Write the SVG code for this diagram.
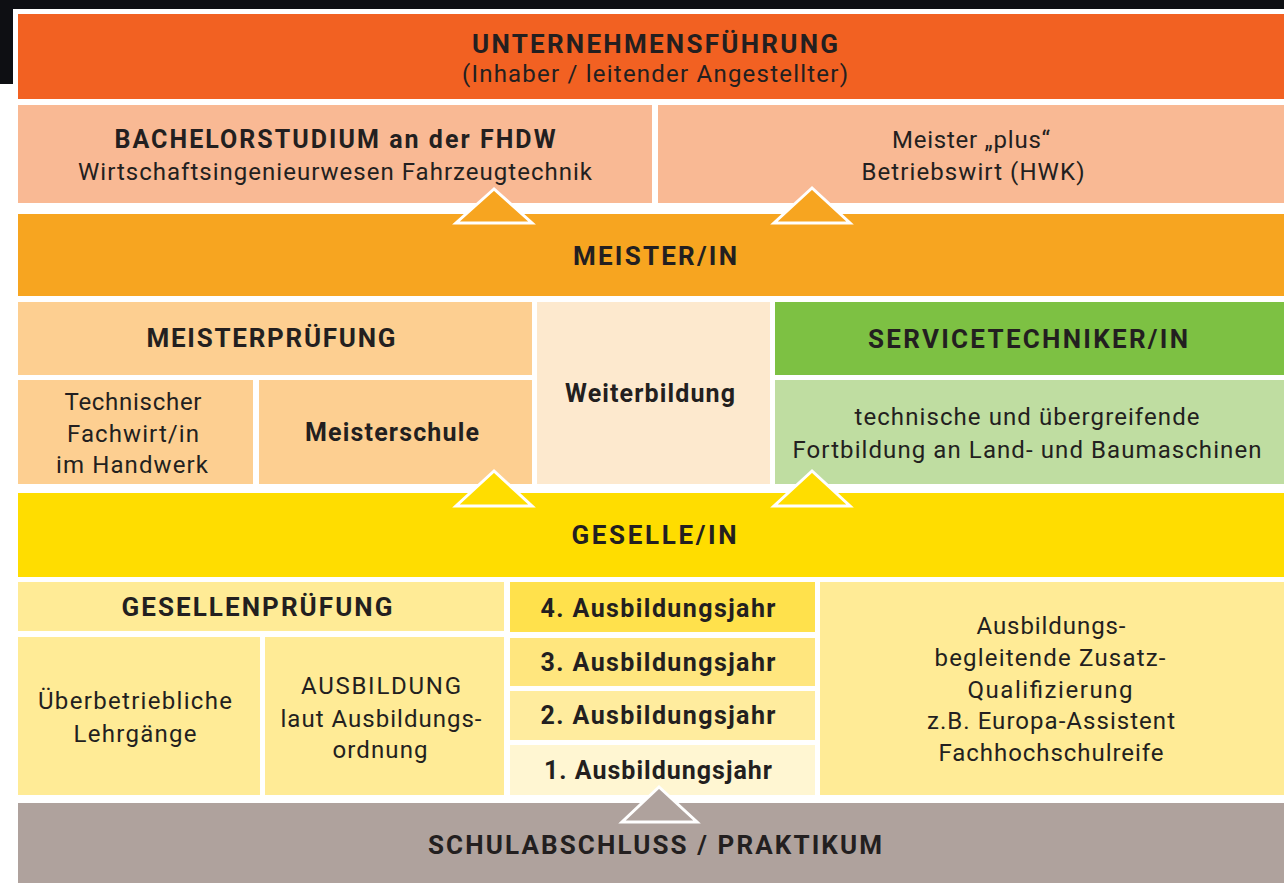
<svg xmlns="http://www.w3.org/2000/svg" width="1284" height="883" viewBox="0 0 1284 883">
<style>
text{font-family:Roboto,"Liberation Sans",sans-serif;fill:#231F20;font-size:24px;text-anchor:middle}
.b{font-weight:bold;font-size:25px}
.h{font-weight:bold;font-size:26px}
.tri{stroke:#fff;stroke-width:3;stroke-linejoin:miter}
</style>
<rect x="0" y="0" width="1284" height="883" fill="#fff"/>
<rect x="0" y="0" width="1284" height="9" fill="#0E0F13"/>
<rect x="0" y="0" width="13" height="84" fill="#0E0F13"/>
<g id="unternehmensfuehrung">
<rect x="18" y="14" width="1266" height="85" fill="#F26122"/>
<text class="h" x="655" y="53" textLength="366">UNTERNEHMENSFÜHRUNG</text>
<text x="655" y="82" textLength="386">(Inhaber / leitender Angestellter)</text>
</g>
<g id="bachelor">
<rect x="18" y="105" width="634" height="98" fill="#F9B994"/>
<text class="b" x="335" y="148" textLength="441">BACHELORSTUDIUM an der FHDW</text>
<text x="335" y="180" textLength="514">Wirtschaftsingenieurwesen Fahrzeugtechnik</text>
</g>
<g id="meisterplus">
<rect x="658" y="105" width="626" height="98" fill="#F9B994"/>
<text x="971" y="148" textLength="158">Meister „plus“</text>
<text x="973" y="180" textLength="223">Betriebswirt (HWK)</text>
</g>
<g id="meister">
<rect x="18" y="214" width="1266" height="82" fill="#F7A520"/>
<text class="h" x="655" y="265" textLength="164">MEISTER/IN</text>
</g>
<g id="meisterpruefung">
<rect x="18" y="302" width="514" height="73" fill="#FDCF91"/>
<text class="h" x="271" y="347" textLength="249">MEISTERPRÜFUNG</text>
</g>
<g id="fachwirt">
<rect x="18" y="380" width="235" height="104" fill="#FDCF91"/>
<text x="133" y="410" textLength="137">Technischer</text>
<text x="133" y="442" textLength="132">Fachwirt/in</text>
<text x="132" y="473" textLength="152">im Handwerk</text>
</g>
<g id="meisterschule">
<rect x="259" y="380" width="273" height="104" fill="#FDCF91"/>
<text class="b" x="392" y="441" textLength="174">Meisterschule</text>
</g>
<g id="weiterbildung">
<rect x="537" y="302" width="233" height="182" fill="#FDE9CE"/>
<text class="b" x="650" y="402" textLength="170">Weiterbildung</text>
</g>
<g id="servicetechniker">
<rect x="775" y="302" width="509" height="73" fill="#7DC143"/>
<text class="h" x="1028" y="348" textLength="320">SERVICETECHNIKER/IN</text>
</g>
<g id="fortbildung">
<rect x="775" y="380" width="509" height="104" fill="#BFDDA1"/>
<text x="1027" y="425" textLength="345">technische und übergreifende</text>
<text x="1027" y="458" textLength="469">Fortbildung an Land- und Baumaschinen</text>
</g>
<g id="geselle">
<rect x="18" y="493" width="1266" height="84" fill="#FFDD00"/>
<text class="h" x="654" y="544" textLength="165">GESELLE/IN</text>
</g>
<g id="gesellenpruefung">
<rect x="18" y="582" width="486" height="49" fill="#FFEB96"/>
<text class="h" x="257" y="616" textLength="271">GESELLENPRÜFUNG</text>
</g>
<g id="ueberbetrieblich">
<rect x="18" y="637" width="242" height="158" fill="#FFEB96"/>
<text x="135" y="709" textLength="194">Überbetriebliche</text>
<text x="135" y="742" textLength="123">Lehrgänge</text>
</g>
<g id="ausbildung">
<rect x="265" y="637" width="239" height="158" fill="#FFEB96"/>
<text x="381" y="694" textLength="160">AUSBILDUNG</text>
<text x="381" y="727" textLength="201">laut Ausbildungs-</text>
<text x="380" y="758" textLength="95">ordnung</text>
</g>
<g id="jahr4">
<rect x="510" y="582" width="305" height="50" fill="#FFE14C"/>
<text class="b" x="658" y="617" textLength="235">4. Ausbildungsjahr</text>
</g>
<g id="jahr3">
<rect x="510" y="638" width="305" height="48" fill="#FFE67E"/>
<text class="b" x="658" y="671" textLength="235">3. Ausbildungsjahr</text>
</g>
<g id="jahr2">
<rect x="510" y="691" width="305" height="49" fill="#FFEC9E"/>
<text class="b" x="658" y="724" textLength="235">2. Ausbildungsjahr</text>
</g>
<g id="jahr1">
<rect x="510" y="745" width="305" height="50" fill="#FFF6D2"/>
<text class="b" x="658" y="779" textLength="228">1. Ausbildungsjahr</text>
</g>
<g id="zusatz">
<rect x="820" y="582" width="464" height="213" fill="#FFEB96"/>
<text x="1051" y="634" textLength="149">Ausbildungs-</text>
<text x="1050" y="666" textLength="231">begleitende Zusatz-</text>
<text x="1050" y="698" textLength="165">Qualifizierung</text>
<text x="1051" y="729" textLength="248">z.B. Europa-Assistent</text>
<text x="1051" y="761" textLength="225">Fachhochschulreife</text>
</g>
<g id="schulabschluss">
<rect x="18" y="803" width="1266" height="80" fill="#AFA29D"/>
<text class="h" x="655" y="854" textLength="454">SCHULABSCHLUSS / PRAKTIKUM</text>
</g>
<g id="connectors">
<polygon class="tri" points="494,189 456,223 532,223" fill="#F7A520"/>
<polygon class="tri" points="812,188 774,223 850,223" fill="#F7A520"/>
<polygon class="tri" points="494,471 456,506 532,506" fill="#FFDD00"/>
<polygon class="tri" points="812,471 774,506 850,506" fill="#FFDD00"/>
<polygon class="tri" points="659,787 622,822 697,822" fill="#AFA29D"/>
</g>
</svg>
